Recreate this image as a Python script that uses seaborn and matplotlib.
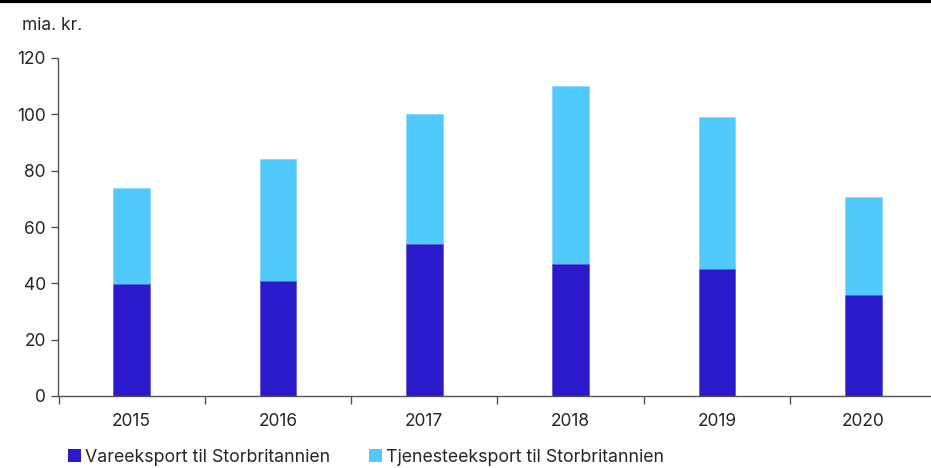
import matplotlib
matplotlib.use("Agg")
import matplotlib.pyplot as plt
import seaborn as sns
import numpy as np
import pandas as pd
from matplotlib.patches import Patch
from matplotlib.lines import Line2D

# Data (mia. kr.)
years = ["2015", "2016", "2017", "2018", "2019", "2020"]
vare = [39.8, 40.7, 53.8, 46.9, 45.1, 36.0]
tjeneste = [33.9, 43.6, 46.4, 63.3, 54.0, 34.8]

dark = "#2B19CC"
light = "#50CAFB"

df = pd.DataFrame({"year": years, "vare": vare, "tjeneste": tjeneste})
df["total"] = df["vare"] + df["tjeneste"]

sns.set_style("white")
plt.rcParams["font.family"] = ["Inter", "DejaVu Sans"]

fig = plt.figure(figsize=(9.31, 4.68), dpi=100)
ax = fig.add_axes([58.5 / 931, 1 - 396 / 468, 878 / 931, 338 / 468])

sns.barplot(data=df, x="year", y="total", color=light, width=0.25,
            saturation=1, ax=ax, edgecolor="#8AD9FC", linewidth=0.6)
sns.barplot(data=df, x="year", y="vare", color=dark, width=0.25,
            saturation=1, ax=ax, edgecolor="#6A5ED8", linewidth=0.6)

ax.set_xlim(-0.5, 5.5)
ax.set_ylim(0, 120)
ax.set_yticks(np.arange(0, 121, 20))
ax.set_xlabel("")
ax.set_ylabel("")

for s in ["top", "right"]:
    ax.spines[s].set_visible(False)
for s in ["left", "bottom"]:
    ax.spines[s].set_color("#555555")
    ax.spines[s].set_linewidth(1.0)

ax.tick_params(axis="y", direction="out", length=5, width=1, color="#555555",
               labelsize=12.5, pad=4, left=True)
ax.tick_params(axis="x", which="major", length=0, labelsize=12.5, pad=12)
ax.set_xticks(np.arange(-0.5, 6, 1), minor=True)
ax.tick_params(axis="x", which="minor", direction="out", length=6, width=1,
               color="#555555", bottom=True)
ax.grid(False)

fig.text(22 / 931, 1 - 25 / 468, "mia. kr.", fontsize=12.5, va="center", ha="left")

# top rule
fig.add_artist(Line2D([0, 1], [0.997, 0.997], transform=fig.transFigure,
                      color="black", linewidth=3))

handles = [Patch(facecolor=dark, edgecolor="none"),
           Patch(facecolor=light, edgecolor="none")]
labels = ["Vareeksport til Storbritannien", "Tjenesteeksport til Storbritannien"]
fig.legend(handles, labels, loc="center left", bbox_to_anchor=(52 / 931, 1 - 457 / 468),
           ncol=2, frameon=False, fontsize=12.8, handlelength=0.75, handleheight=0.75,
           handletextpad=0.2, columnspacing=2.2)

fig.savefig("out.png", dpi=100)
